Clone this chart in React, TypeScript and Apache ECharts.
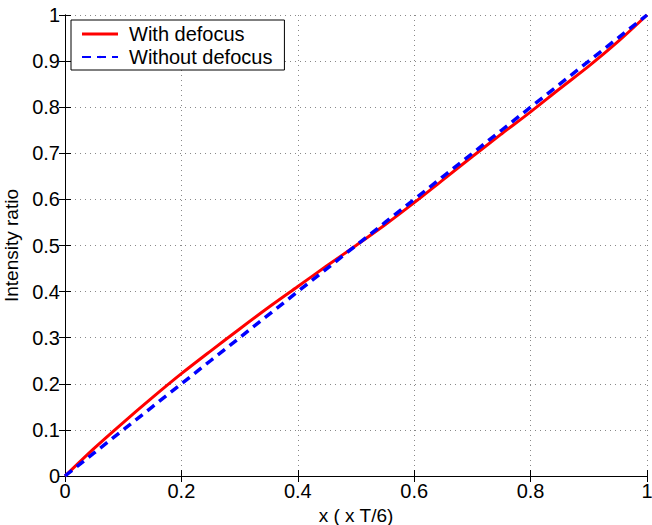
import React, { useEffect, useRef } from "react";
import * as echarts from "echarts";

const xValues = [0, 0.05, 0.1, 0.15, 0.2, 0.25, 0.3, 0.35, 0.4, 0.45, 0.5, 0.55, 0.6, 0.65, 0.7, 0.75, 0.8, 0.85, 0.9, 0.95, 1];
const withDefocus = [0, 0.06, 0.116, 0.17, 0.222, 0.271, 0.319, 0.366, 0.411, 0.456, 0.5, 0.545, 0.593, 0.643, 0.693, 0.742, 0.79, 0.84, 0.889, 0.942, 1];
const withoutDefocus = [0, 0.05, 0.1, 0.15, 0.2, 0.25, 0.3, 0.35, 0.4, 0.45, 0.5, 0.55, 0.6, 0.65, 0.7, 0.75, 0.8, 0.85, 0.9, 0.95, 1];
const seriesNames = ["With defocus", "Without defocus"];

const FONT = "Liberation Sans, Arial, Helvetica, sans-serif";
const FS = 20;

export default function App() {
  const ref = useRef<HTMLDivElement>(null);
  useEffect(() => {
    if (!ref.current) return;
    const chart = echarts.init(ref.current, null, { renderer: "svg" });
    const axisCommon = {
      type: "value" as const,
      min: 0,
      max: 1,
      interval: 0.1,
    };
    chart.setOption({
      animation: false,
      backgroundColor: "#fff",
      grid: { left: 65, right: 5, top: 15, bottom: 49, containLabel: false, outerBoundsMode: "none" },
      legend: {
        left: 71,
        top: 20,
        orient: "vertical",
        backgroundColor: "#fff",
        borderColor: "#000",
        borderWidth: 1,
        borderRadius: 0,
        padding: [4, 12, 3, 10],
        itemGap: 3,
        itemWidth: 36,
        itemHeight: 3,
        textStyle: { fontFamily: FONT, fontSize: FS, color: "#000", padding: [0, 0, 0, 6] },
        data: [
          { name: seriesNames[0], icon: "rect", itemStyle: { color: "#ff0000" } },
          { name: seriesNames[1] },
        ],
      },
      xAxis: [
        {
          ...axisCommon,
          interval: 0.2,
          position: "bottom",
          name: "x ( x T/6)",
          nameLocation: "middle",
          nameGap: 25,
          nameTextStyle: { fontFamily: FONT, fontSize: FS - 1, color: "#000" },
          axisLine: { show: true, lineStyle: { color: "#000", width: 1 } },
          axisTick: { show: true, inside: true, length: 6, lineStyle: { color: "#000" } },
          axisLabel: { fontFamily: FONT, fontSize: FS, color: "#000", margin: 5 },
          splitLine: { show: true, lineStyle: { color: "#888", type: [1, 4], width: 1 } },
        },
        {
          ...axisCommon,
          interval: 0.2,
          position: "top",
          axisLine: { show: true, lineStyle: { color: "#000", width: 1 } },
          axisTick: { show: true, inside: true, length: 6, lineStyle: { color: "#000" } },
          axisLabel: { show: false },
          splitLine: { show: false },
        },
      ],
      yAxis: [
        {
          ...axisCommon,
          position: "left",
          name: "Intensity ratio",
          nameLocation: "middle",
          nameGap: 39,
          nameTextStyle: { fontFamily: FONT, fontSize: FS - 1, color: "#000" },
          axisLine: { show: true, lineStyle: { color: "#000", width: 1 } },
          axisTick: { show: true, inside: true, length: 6, lineStyle: { color: "#000" } },
          axisLabel: { fontFamily: FONT, fontSize: FS, color: "#000", margin: 5 },
          splitLine: { show: true, lineStyle: { color: "#888", type: [1, 4], width: 1 } },
        },
        {
          ...axisCommon,
          position: "right",
          axisLine: { show: true, lineStyle: { color: "#000", width: 1 } },
          axisTick: { show: true, inside: true, length: 6, lineStyle: { color: "#000" } },
          axisLabel: { show: false },
          splitLine: { show: false },
        },
      ],
      series: [
        {
          name: seriesNames[0],
          type: "line",
          showSymbol: false,
          symbol: "none",
          smooth: 0.3,
          data: xValues.map((x, i) => [x, withDefocus[i]]),
          lineStyle: { color: "#ff0000", width: 3 },
          itemStyle: { color: "#ff0000" },
          z: 3,
        },
        {
          name: seriesNames[1],
          type: "line",
          showSymbol: false,
          symbol: "none",
          data: xValues.map((x, i) => [x, withoutDefocus[i]]),
          lineStyle: { color: "#0000ff", width: 3.5, type: [9, 6] },
          itemStyle: { color: "#0000ff" },
          z: 4,
        },
      ],
    });
    return () => chart.dispose();
  }, []);
  return (
    <div
      ref={ref}
      style={{ position: "fixed", left: 0, top: 0, width: 652, height: 525, background: "#fff" }}
    />
  );
}
